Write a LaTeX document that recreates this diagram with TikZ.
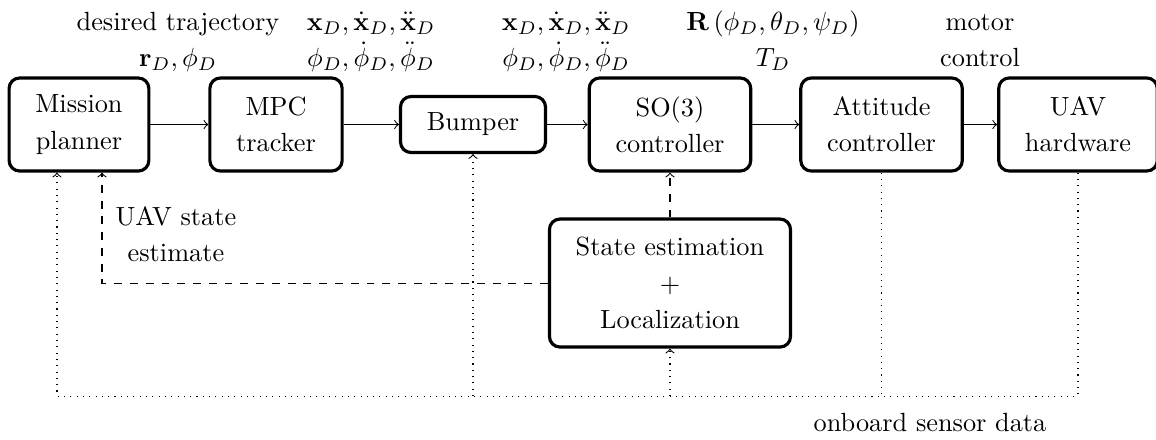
\documentclass[tikz,border=0pt]{standalone}
\usepackage{amsmath,amssymb}

\begin{document}
\begin{tikzpicture}[
    font=\fontsize{10pt}{13.8pt}\selectfont,
    block/.style={draw, very thick, rounded corners, align=center,
      inner xsep=10pt, inner ysep=6pt, minimum height=35.4pt},
    sig/.style={align=center, inner sep=0pt, anchor=base},
    feedback/.style={dashed, ->},
    sensor/.style={dotted, ->}
  ]
  \useasboundingbox (0,1.665) rectangle (15.458,-4.206);
  % blocks of the control pipeline
  \node (mission) [block] at (1.056,0) {Mission\\planner};
  \node (mpc) [block] at (3.691,0) {MPC\\tracker};
  \node (bumper) [block, minimum height=21.3pt] at (6.325,0) {Bumper};
  \node (so3) [block] at (8.959,0) {SO(3)\\controller};
  \node (att) [block] at (11.788,0) {Attitude\\controller};
  \node (uav) [block] at (14.415,0) {UAV\\hardware};
  \node (est) [block, minimum height=48.7pt] at (8.959,-2.120)
    {State estimation\\$+$\\Localization};

  % signals
  \node (traj) [sig] at (2.380,0.776) {desired trajectory\\$\mathbf{r}_D, \phi_D$};
  \node (mpcref) [sig] at (4.961,0.776)
    {$\mathbf{x}_D, \dot{\mathbf{x}}_D, \ddot{\mathbf{x}}_D$\\$\phi_D, \dot{\phi}_D, \ddot{\phi}_D$};
  \node (bumpref) [sig] at (7.569,0.776)
    {$\mathbf{x}_D, \dot{\mathbf{x}}_D, \ddot{\mathbf{x}}_D$\\$\phi_D, \dot{\phi}_D, \ddot{\phi}_D$};
  \node (attref) [sig] at (10.337,0.776)
    {$\mathbf{R}\left(\phi_D, \theta_D, \psi_D\right)$\\$T_D$};
  \node (motor) [sig] at (13.105,0.776) {motor\\control};
  \node (uavest) [sig] at (2.353,-1.835) {UAV state\\estimate};
  \node (sensdata) [sig] at (12.436,-4.108) {onboard sensor data};

  \draw[->] (mission) -- (mpc);
  \draw[->] (mpc) -- (bumper);
  \draw[->] (bumper) -- (so3);
  \draw[->] (so3) -- (att);
  \draw[->] (att) -- (uav);

  % state estimate feedback
  \coordinate (mdash) at ([xshift=0.308cm]mission.south);
  \draw[feedback] (est.west) -| (mdash);
  \draw[feedback] (est.north) -- (so3.south);

  % sensor data
  \coordinate (bus) at (0,-3.631);
  \coordinate (mdot) at ([xshift=-0.294cm]mission.south);
  \draw[sensor] (uav.south) |- (mdot |- bus) -- (mdot);
  \draw[dotted] (att.south) -- (att.south |- bus);
  \draw[sensor] (bumper.south |- bus) -- (bumper.south);
  \draw[sensor] (est.south |- bus) -- (est.south);
\end{tikzpicture}
\end{document}
